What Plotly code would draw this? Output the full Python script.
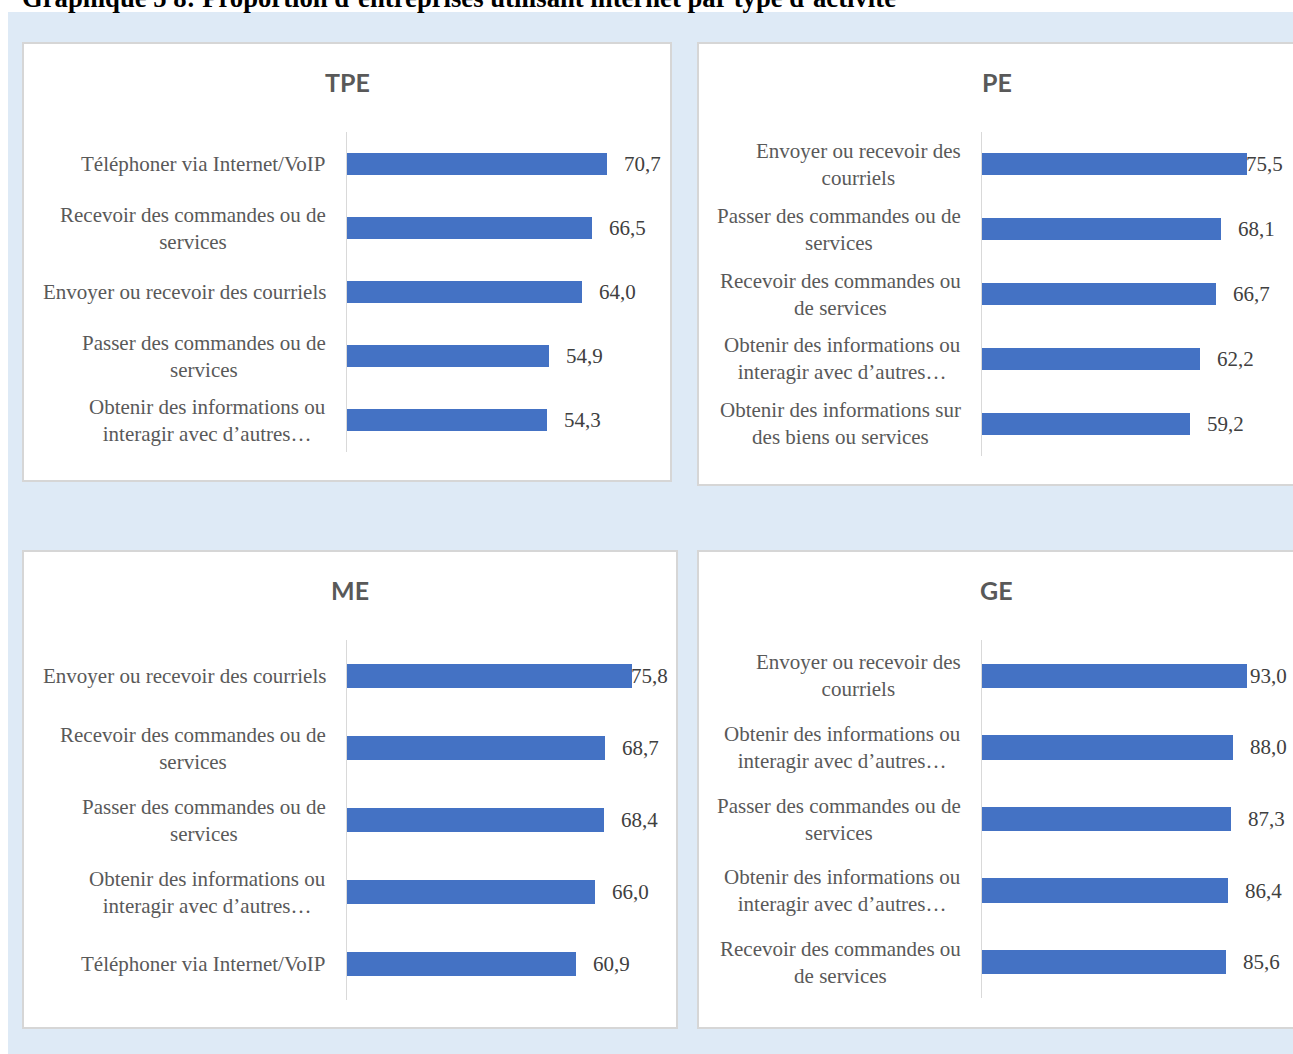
import plotly.graph_objects as go

# ---- data -----------------------------------------------------------------
tpe_labels = [
    "Téléphoner via Internet/VoIP",
    "Recevoir des commandes ou de<br>services",
    "Envoyer ou recevoir des courriels",
    "Passer des commandes ou de<br>services",
    "Obtenir des informations ou<br>interagir avec d’autres…",
]
tpe_values = [70.7, 66.5, 64.0, 54.9, 54.3]

pe_labels = [
    "Envoyer ou recevoir des<br>courriels",
    "Passer des commandes ou de<br>services",
    "Recevoir des commandes ou<br>de services",
    "Obtenir des informations ou<br>interagir avec d’autres…",
    "Obtenir des informations sur<br>des biens ou services",
]
pe_values = [75.5, 68.1, 66.7, 62.2, 59.2]

me_labels = [
    "Envoyer ou recevoir des courriels",
    "Recevoir des commandes ou de<br>services",
    "Passer des commandes ou de<br>services",
    "Obtenir des informations ou<br>interagir avec d’autres…",
    "Téléphoner via Internet/VoIP",
]
me_values = [75.8, 68.7, 68.4, 66.0, 60.9]

ge_labels = [
    "Envoyer ou recevoir des<br>courriels",
    "Obtenir des informations ou<br>interagir avec d’autres…",
    "Passer des commandes ou de<br>services",
    "Obtenir des informations ou<br>interagir avec d’autres…",
    "Recevoir des commandes ou<br>de services",
]
ge_values = [93.0, 88.0, 87.3, 86.4, 85.6]

panel_titles = ["TPE", "PE", "ME", "GE"]
page_title = "Graphique 5 8: Proportion d’entreprises utilisant internet par type d’activité"

# ---- layout geometry (pixels) --------------------------------------------
W, H = 1293, 1054


def fx(px):
    return px / W


def fy(py):
    return 1 - py / H


panels = [
    # box (x0, y0, x1, y1), plot area (x0, x1, ytop, ybottom), x max
    dict(title=panel_titles[0], labels=tpe_labels, values=tpe_values,
         box=(23, 43, 671, 481), area=(347, 664, 132, 452), xmax=86.2),
    dict(title=panel_titles[1], labels=pe_labels, values=pe_values,
         box=(698, 43, 1300, 485), area=(982, 1285, 132, 456), xmax=86.3),
    dict(title=panel_titles[2], labels=me_labels, values=me_values,
         box=(23, 551, 677, 1028), area=(347, 670, 640, 1000), xmax=85.9),
    dict(title=panel_titles[3], labels=ge_labels, values=ge_values,
         box=(698, 551, 1300, 1028), area=(982, 1289, 640, 998), xmax=107.7),
]

BAR = "#4472C4"
TXT = "#595959"
SERIF = "Liberation Serif, Times New Roman, serif"
SANS = "Lato, Open Sans, sans-serif"
LABEL_SIZE = 21

fig = go.Figure()
shapes = [
    dict(type="rect", xref="paper", yref="paper", x0=fx(8), x1=fx(W + 5),
         y0=fy(H + 5), y1=fy(12), fillcolor="#DEEAF6", line=dict(width=0),
         layer="below"),
]
annotations = [
    dict(text=f"<b>{page_title}</b>", xref="paper", yref="paper",
         x=fx(20), y=fy(15), xanchor="left", yanchor="bottom", showarrow=False,
         font=dict(family=SERIF, size=26.7, color="#000000")),
]

layout_axes = {}
for k, p in enumerate(panels, start=1):
    xa = "x" if k == 1 else f"x{k}"
    ya = "y" if k == 1 else f"y{k}"
    ax0, ax1, at, ab = p["area"]
    n = len(p["values"])
    pos = list(range(n))

    fig.add_trace(go.Bar(
        x=p["values"], y=pos, orientation="h", width=0.34,
        marker=dict(color=BAR, line=dict(width=0)),
        xaxis=xa, yaxis=ya, hoverinfo="skip", showlegend=False,
    ))

    layout_axes["xaxis" if k == 1 else f"xaxis{k}"] = dict(
        domain=[fx(ax0), fx(ax1)], range=[0, p["xmax"]], visible=False,
        anchor=ya, fixedrange=True,
    )
    layout_axes["yaxis" if k == 1 else f"yaxis{k}"] = dict(
        domain=[fy(ab), fy(at)], range=[n - 0.5, -0.5], anchor=xa,
        showticklabels=False, showgrid=False, zeroline=False, ticks="",
        showline=True, linecolor="#D9D9D9", linewidth=1, fixedrange=True,
    )

    # panel frame
    bx0, by0, bx1, by1 = p["box"]
    shapes.append(dict(type="rect", xref="paper", yref="paper",
                       x0=fx(bx0), x1=fx(bx1), y0=fy(by1), y1=fy(by0),
                       fillcolor="#FFFFFF", line=dict(color="#D6D6D6", width=2),
                       layer="below"))

    # panel title
    annotations.append(dict(
        text=f"<b>{p['title']}</b>", xref="paper", yref="paper",
        x=fx((bx0 + min(bx1, 1295)) / 2), y=fy(by0 + 39), xanchor="center",
        yanchor="middle", showarrow=False,
        font=dict(family=SANS, size=25, color=TXT)))

    scale = (ax1 - ax0) / p["xmax"]
    for i, (lab, v) in enumerate(zip(p["labels"], p["values"])):
        # category label, centred lines, right edge next to the axis
        annotations.append(dict(
            text=lab, xref=f"{xa} domain", yref=ya, x=0, y=i,
            xanchor="right", yanchor="middle", xshift=-19, align="center",
            showarrow=False, font=dict(family=SERIF, size=LABEL_SIZE, color=TXT)))
        # value label, pushed back inside the plot area when it would overflow
        txt = f"{v:.1f}".replace(".", ",")
        if v * scale + 16 + 38 > (ax1 - ax0):
            annotations.append(dict(
                text=txt, xref=xa, yref=ya, x=p["xmax"], y=i,
                xanchor="right", yanchor="middle", showarrow=False,
                font=dict(family=SERIF, size=LABEL_SIZE, color="#404040")))
        else:
            annotations.append(dict(
                text=txt, xref=xa, yref=ya, x=v, y=i, xshift=15,
                xanchor="left", yanchor="middle", showarrow=False,
                font=dict(family=SERIF, size=LABEL_SIZE, color="#404040")))

fig.update_layout(
    width=W, height=H, margin=dict(l=0, r=0, t=0, b=0, autoexpand=False),
    paper_bgcolor="#FFFFFF", plot_bgcolor="rgba(0,0,0,0)",
    shapes=shapes, annotations=annotations, bargap=0, **layout_axes,
)

fig.write_html("out.html", config=dict(displayModeBar=False))
